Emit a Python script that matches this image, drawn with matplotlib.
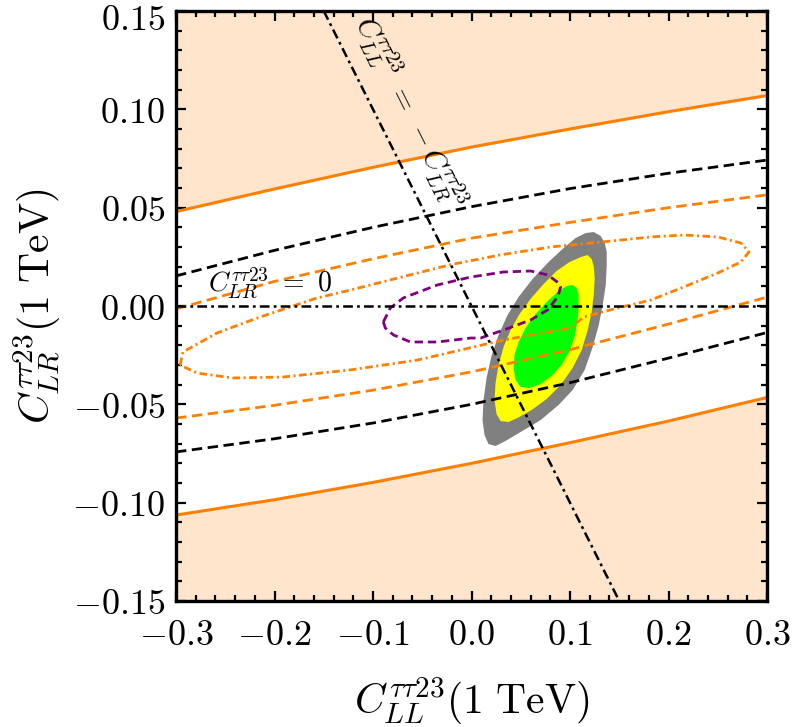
import numpy as np
import matplotlib
matplotlib.use("Agg")
import matplotlib.pyplot as plt
from matplotlib.ticker import MultipleLocator
from matplotlib.transforms import ScaledTranslation

plt.rcParams['mathtext.fontset'] = 'cm'
plt.rcParams['lines.scale_dashes'] = False

x_ticks = [-0.3, -0.2, -0.1, 0.0, 0.1, 0.2, 0.3]
y_ticks = [-0.15, -0.10, -0.05, 0.0, 0.05, 0.10, 0.15]

# bands in C_LL, sampled on a coarse grid
x_grid = [-0.3, -0.2, -0.1, 0.0, 0.1, 0.2, 0.3]
excl_upper = [0.0480, 0.0595, 0.0705, 0.0808, 0.0900, 0.0988, 0.1070]
excl_lower = [-0.1063, -0.0985, -0.0897, -0.0800, -0.0695, -0.0585, -0.0465]
black_hi = [0.0153, 0.0283, 0.0400, 0.0505, 0.0597, 0.0675, 0.0742]
black_lo = [-0.0742, -0.0675, -0.0595, -0.0500, -0.0390, -0.0265, -0.0135]
orange_hi = [-0.0015, 0.0125, 0.0240, 0.0345, 0.0425, 0.0500, 0.0565]
orange_lo = [-0.0570, -0.0505, -0.0428, -0.0335, -0.0222, -0.0092, 0.0045]

# closed contours (C_LL, C_LR)
odd_x = [-0.2959, -0.2929, -0.2583, -0.2146, -0.1566, -0.123, -0.0214, 0.0295,
         0.0804, 0.1312, 0.182, 0.2156, 0.2502, 0.2736, 0.2817, 0.2736, 0.2502,
         0.2156, 0.182, 0.1485, 0.1139, 0.1007, 0.0326, -0.0549, -0.123,
         -0.1912, -0.242, -0.2786, -0.2959]
odd_y = [-0.030, -0.0234, -0.0137, -0.0056, 0.0041, 0.0081, 0.021, 0.026,
         0.030, 0.0325, 0.0351, 0.0361, 0.0351, 0.032, 0.0275, 0.0224, 0.0168,
         0.0097, 0.003, -0.001, -0.0056, -0.0112, -0.0173, -0.0275, -0.0325,
         -0.0361, -0.0366, -0.0341, -0.030]

purple_x = [-0.0895, -0.0824, -0.0692, -0.0346, -0.001, 0.0326, 0.060, 0.0773,
            0.0885, 0.0905, 0.0875, 0.0773, 0.060, 0.0326, 0.0092, -0.001,
            -0.0346, -0.062, -0.0793, -0.0875, -0.0895]
purple_y = [-0.0081, -0.001, 0.0041, 0.0107, 0.0147, 0.0173, 0.0178, 0.0158,
            0.0117, 0.0097, 0.0046, -0.002, -0.0071, -0.0122, -0.0163, -0.0163,
            -0.0183, -0.0183, -0.0147, -0.0112, -0.0081]

gray_x = [0.1159, 0.1241, 0.1312, 0.1353, 0.1373, 0.1373, 0.1363, 0.1332,
          0.1292, 0.1231, 0.1149, 0.1027, 0.0885, 0.0702, 0.0498, 0.0346,
          0.0244, 0.0173, 0.0132, 0.0112, 0.0122, 0.0153, 0.0203, 0.0275,
          0.0366, 0.0478, 0.0620, 0.0783, 0.0936, 0.1058]
gray_y = [0.0371, 0.0376, 0.0356, 0.0320, 0.0275, 0.0208, 0.0107, 0.0005,
          -0.0097, -0.0208, -0.0325, -0.0427, -0.0503, -0.0580, -0.0641, -0.0686,
          -0.0712, -0.0702, -0.0656, -0.0580, -0.0478, -0.0366, -0.0254, -0.0147,
          -0.0046, 0.0046, 0.0137, 0.0224, 0.0295, 0.0346]

yellow_x = [0.1109, 0.1180, 0.1220, 0.1241, 0.1251, 0.1241, 0.1220, 0.1180,
            0.1119, 0.1027, 0.0905, 0.0763, 0.0610, 0.0468, 0.0376, 0.0295,
            0.0254, 0.0234, 0.0244, 0.0275, 0.0326, 0.0397, 0.0488, 0.0600,
            0.0732, 0.0864, 0.0997]
yellow_y = [0.0249, 0.0259, 0.0239, 0.0203, 0.0142, 0.0056, -0.0031, -0.0122,
            -0.0224, -0.0315, -0.0402, -0.0473, -0.0529, -0.0569, -0.0590, -0.0585,
            -0.0549, -0.0478, -0.0392, -0.0300, -0.0208, -0.0122, -0.0041, 0.0036,
            0.0112, 0.0178, 0.0224]

green_x = [0.0966, 0.1027, 0.1068, 0.1088, 0.1088, 0.1078, 0.1048, 0.0997,
           0.0915, 0.0814, 0.0702, 0.0590, 0.0498, 0.0448, 0.0427, 0.0437,
           0.0478, 0.0549, 0.0651, 0.0773, 0.0885]
green_y = [0.0102, 0.0107, 0.0092, 0.0056, 0.0, -0.0071, -0.0153, -0.0229,
           -0.0300, -0.0356, -0.0397, -0.0417, -0.0412, -0.0376, -0.0315, -0.0249,
           -0.0183, -0.0112, -0.0041, 0.0025, 0.0076]

orange = '#FF8000'
peach = '#FFE5CC'

fig = plt.figure(figsize=(7.93, 7.27), dpi=100)
ax = fig.add_axes([176 / 793, 1 - 601 / 727, 591 / 793, 590 / 727])
ax.set_xlim(-0.3, 0.3)
ax.set_ylim(-0.15, 0.15)

# excluded regions
ax.fill_between(x_grid, excl_upper, 0.15, color=peach, lw=0, zorder=0)
ax.fill_between(x_grid, -0.15, excl_lower, color=peach, lw=0, zorder=0)

# allowed regions
ax.fill(gray_x, gray_y, color='#808080', lw=0, zorder=1)
ax.fill(yellow_x, yellow_y, color='#FFFF00', lw=0, zorder=2)
ax.fill(green_x, green_y, color='#00FF00', lw=0, zorder=3)

ax.plot(x_grid, excl_upper, color=orange, lw=2.2, zorder=4)
ax.plot(x_grid, excl_lower, color=orange, lw=2.2, zorder=4)
ax.plot(x_grid, black_hi, color='k', lw=2.0, dashes=(7.5, 4), zorder=5)
ax.plot(x_grid, black_lo, color='k', lw=2.0, dashes=(7.5, 4), zorder=5)
ax.plot(x_grid, orange_hi, color=orange, lw=2.0, dashes=(7.5, 4), zorder=5)
ax.plot(x_grid, orange_lo, color=orange, lw=2.0, dashes=(7.5, 4), zorder=5)
ax.plot(odd_x, odd_y, color=orange, lw=2.0, dashes=(5.5, 2.5, 1.5, 2.5), zorder=5)
ax.plot(purple_x, purple_y, color='#800080', lw=2.0, dashes=(6, 3.5), zorder=5)

# reference lines C_LR = 0 and C_LL = -C_LR
ax.plot([-0.3, 0.3], [0, 0], color='k', lw=1.8, dashes=(7, 3, 2, 3), zorder=6)
ax.plot([-0.15, 0.15], [0.15, -0.15], color='k', lw=1.8, dashes=(7, 3, 2, 3), zorder=6)

p0 = ax.transData.transform((-0.15, 0.15))
p1 = ax.transData.transform((0.15, -0.15))
ang = np.degrees(np.arctan2(p1[1] - p0[1], p1[0] - p0[0]))
ax.text(-0.062, 0.0986, r'$C_{LL}^{\tau\tau 23}\ =\ -C_{LR}^{\tau\tau 23}$',
        fontsize=21, rotation=ang, rotation_mode='anchor',
        ha='center', va='center', zorder=7)
ax.text(-0.2675, 0.0071, r'$C_{LR}^{\tau\tau 23}\ =\ 0$', fontsize=20,
        ha='left', va='baseline', zorder=7)

ax.set_xticks(x_ticks)
ax.set_xticklabels([r'$%.1f$' % v for v in x_ticks])
ax.set_yticks(y_ticks)
ax.set_yticklabels([r'$%.2f$' % v for v in y_ticks])
ax.xaxis.set_minor_locator(MultipleLocator(0.02))
ax.yaxis.set_minor_locator(MultipleLocator(0.01))
ax.tick_params(which='both', direction='in', top=True, right=True,
               labelsize=26, width=1.6)
ax.tick_params(which='major', length=7)
ax.tick_params(axis='x', which='major', pad=12)
ax.tick_params(axis='y', which='major', pad=8)
ax.tick_params(which='minor', length=4)
for s in ax.spines.values():
    s.set_linewidth(2.4)
    s.set_zorder(10)

# keep the top y label inside the figure
top_lbl = ax.get_yticklabels()[-1]
top_lbl.set_transform(top_lbl.get_transform()
                      + ScaledTranslation(0, -0.05, fig.dpi_scale_trans))

ax.set_xlabel(r'$C_{LL}^{\tau\tau 23}(1\ \mathrm{TeV})$', fontsize=30)
ax.set_ylabel(r'$C_{LR}^{\tau\tau 23}(1\ \mathrm{TeV})$', fontsize=30)
ax.xaxis.set_label_coords(0.5, -0.126)
ax.yaxis.set_label_coords(-0.192, 0.5)

fig.savefig('out.png', dpi=100)
